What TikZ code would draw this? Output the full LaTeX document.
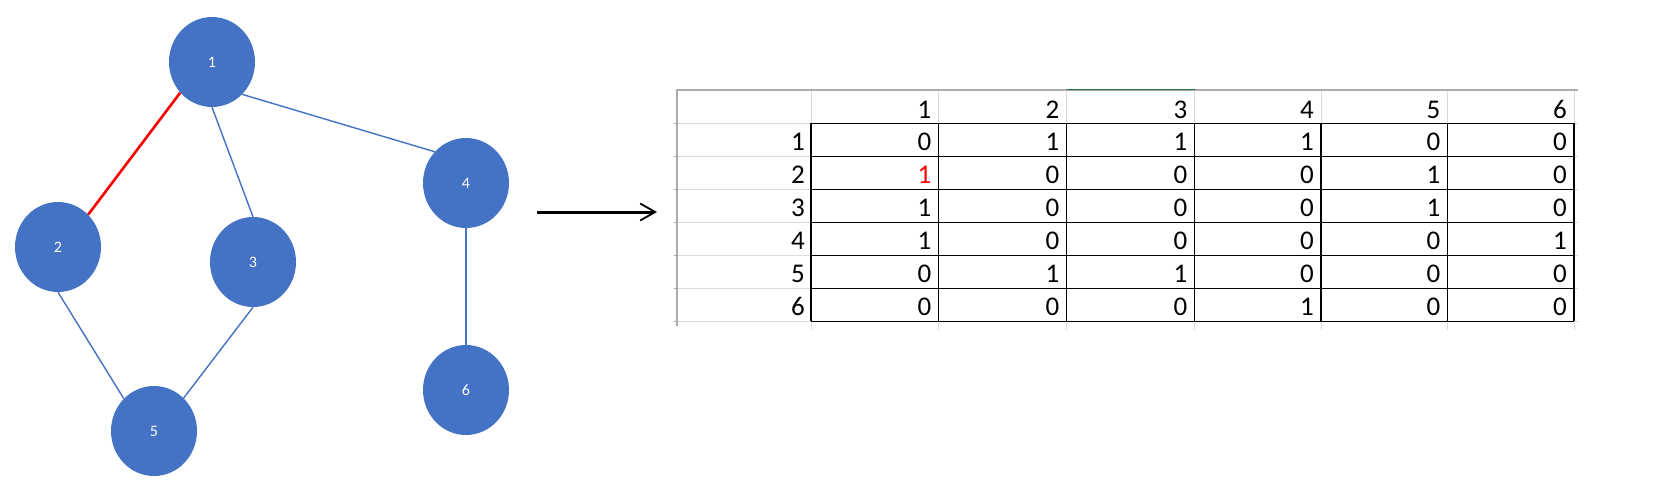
\documentclass[tikz,border=0pt]{standalone}
\usepackage{fontspec}
\setmainfont{Carlito}
\usetikzlibrary{shapes.geometric,arrows.meta}
\definecolor{nodeblue}{HTML}{4472C4}
\definecolor{gridgrey}{HTML}{DADADA}
\definecolor{framegrey}{HTML}{ABABAB}
\definecolor{xlgreen}{HTML}{217346}
\definecolor{xlred}{HTML}{FF0000}
\begin{document}
\begin{tikzpicture}[x=1pt,y=-1pt,
  vertex/.style={ellipse,fill=nodeblue,minimum width=86pt,minimum height=90pt,inner sep=0pt,text=white,font=\fontsize{16}{16}\selectfont},
  edge/.style={draw=nodeblue,line width=1.4pt},
  redge/.style={draw=xlred,line width=2.6pt},
  cell/.style={anchor=base east,inner sep=0pt,font=\fontsize{27}{27}\selectfont},
  grid/.style={draw=gridgrey,line width=1pt},
  frame/.style={draw=framegrey,line width=1.2pt},
  border/.style={draw=black,line width=1.1pt},
  bigarrow/.style={draw=black,line width=3pt,-{Straight Barb[length=15pt,width=17pt,line width=1.8pt]}}
]
\fill[white] (0,0) rectangle (1678,488);
\useasboundingbox (0,0) rectangle (1678,488);

% ---------- graph ----------
\node[vertex] (n1) at (212,62) {1};
\node[vertex] (n2) at (58,247) {2};
\node[vertex] (n3) at (253,262) {3};
\node[vertex] (n4) at (466,183) {4};
\node[vertex] (n5) at (154,431) {5};
\node[vertex] (n6) at (466,390) {6};

\draw[edge] (n1.224) -- (n2.47);
\draw[edge] (n1.south) -- (n3.north);
\draw[edge] (n1.-47) -- (n4.135);
\draw[edge] (n2.south) -- (n5.133);
\draw[edge] (n3.south) -- (n5.48);
\draw[edge] (n4.south) -- (n6.north);
\draw[redge] (n1.224) -- (n2.47);

% ---------- arrow ----------
\coordinate (as) at (537,212);
\coordinate (ae) at (657,212);
\draw[bigarrow] (as) -- (ae);

% ---------- table ----------
% light grid
\foreach \y in {123.3,156.3,189.3,222.3,255.3,288.3,321.3}
  \draw[grid] (677,\y) -- (1578,\y);
\foreach \x in {811,938.5,1066.5,1194.5,1321,1447.5,1574}
  \draw[grid] (\x,90) -- (\x,330);
% frame
\draw[frame] (1578,90) -- (677,90) -- (677,326);
\foreach \y in {123.3,156.3,189.3,222.3,255.3,288.3,321.3}
  \draw[frame] (673.5,\y) -- (677,\y);
\draw[xlgreen,line width=1.8pt] (1066.5,89.5) -- (1194.5,89.5);
% black borders
\foreach \y in {123.3,156.3,189.3,222.3,255.3,288.3,321.3}
  \draw[border] (811,\y) -- (1574,\y);
\foreach \x in {811,938.5,1066.5,1194.5,1321,1447.5,1574}
  \draw[border] (\x,123.3) -- (\x,321.3);

% header
\foreach \j/\x in {1/938.5,2/1066.5,3/1194.5,4/1321,5/1447.5,6/1574}
  \node[cell] (h\j) at (\x-7,118.3) {\j};
% row labels
\foreach \i/\y in {1/156.3,2/189.3,3/222.3,4/255.3,5/288.3,6/321.3}
  \node[cell] (r\i) at (805,\y-5.5) {\i};
% values
\foreach \i/\y/\row in {
  1/156.3/{0,1,1,1,0,0},
  3/222.3/{1,0,0,0,1,0},
  4/255.3/{1,0,0,0,0,1},
  5/288.3/{0,1,1,0,0,0},
  6/321.3/{0,0,0,1,0,0}}{
  \foreach \v [count=\j] in \row {
    \pgfmathsetmacro\xx{{938.5,1066.5,1194.5,1321,1447.5,1574}[\j-1]}
    \node[cell] (v\i-\j) at (\xx-7,\y-5.5) {\v};
  }
}
\node[cell,text=xlred] (v2-1) at (938.5-7,189.3-5.5) {1};
\foreach \v [count=\j] in {0,0,0,1,0} {
  \pgfmathsetmacro\xx{{1066.5,1194.5,1321,1447.5,1574}[\j-1]}
  \node[cell] (v2-\j x) at (\xx-7,189.3-5.5) {\v};
}
\end{tikzpicture}
\end{document}
